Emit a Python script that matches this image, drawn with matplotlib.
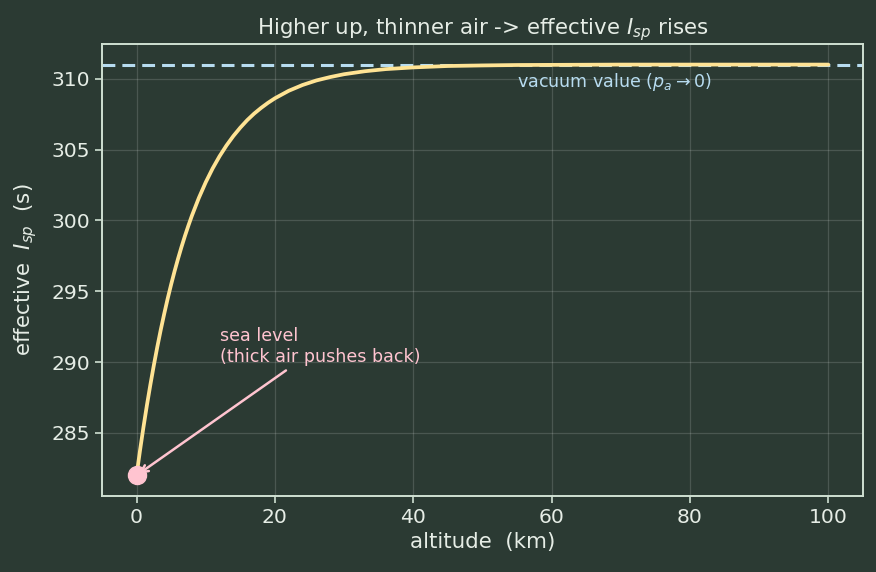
import matplotlib
matplotlib.use("Agg")
import matplotlib.pyplot as plt

# data
altitude_km = [0, 0.5, 1, 1.5, 2, 2.5, 3, 3.5, 4, 4.5, 5, 5.5, 6, 6.5, 7, 7.5, 8, 9, 10, 11, 12,
               13, 14, 15, 16, 17, 18, 19, 20, 22, 24, 26, 28, 30, 33, 36, 40, 45, 50, 55, 60,
               70, 80, 90, 100]
isp_s = [282.00, 283.76, 285.41, 286.96, 288.41, 289.78, 291.07, 292.28, 293.41, 294.48, 295.48,
         296.42, 297.30, 298.13, 298.91, 299.64, 300.33, 301.58, 302.69, 303.67, 304.53, 305.29,
         305.96, 306.55, 307.08, 307.54, 307.94, 308.30, 308.62, 309.15, 309.56, 309.88, 310.12,
         310.32, 310.53, 310.68, 310.80, 310.90, 310.94, 310.97, 310.98, 311.00, 311.00, 311.00,
         311.00]
isp_vacuum = 311.0
sea_level_alt = 0
sea_level_isp = 282.0

bg = "#2b3a33"
fg = "#e6ede6"
spine_c = "#cfe0d2"

fig = plt.figure(figsize=(8.76, 5.72), dpi=100, facecolor=bg)
ax = fig.add_axes([0.1164, 0.133, 0.985 - 0.1164, 0.923 - 0.133])
ax.set_facecolor(bg)

ax.grid(True, color="#ffffff", alpha=0.15, lw=0.9)
ax.set_axisbelow(True)

ax.axhline(isp_vacuum, color="#b7dcf0", lw=2.2, ls=(0, (4.2, 2.3)), zorder=2)
ax.plot(altitude_km, isp_s, color="#ffe394", lw=2.7, zorder=3, solid_capstyle="round")
ax.plot([sea_level_alt], [sea_level_isp], "o", color="#ffc4d0", ms=13, zorder=4)

ax.annotate("sea level\n(thick air pushes back)", xy=(sea_level_alt, sea_level_isp),
            xytext=(12, 290), color="#ffc4d0", fontsize=12.6,
            arrowprops=dict(arrowstyle="->", color="#ffc4d0", lw=1.8), zorder=5)

ax.text(55, 310.55, r"vacuum value ($p_a \rightarrow 0$)", color="#b7dcf0", fontsize=12.6,
        ha="left", va="top")

ax.set_title(r"Higher up, thinner air -> effective $I_{sp}$ rises", color=fg, fontsize=15.4, pad=7)
ax.set_xlabel("altitude  (km)", color=fg, fontsize=15.4)
ax.set_ylabel(r"effective  $I_{sp}$  (s)", color=fg, fontsize=15.4, labelpad=9)

ax.set_xticks([0, 20, 40, 60, 80, 100])
ax.set_yticks([285, 290, 295, 300, 305, 310])
ax.tick_params(colors=spine_c, labelcolor=fg, labelsize=14.6, width=1.2, length=5)
for s in ax.spines.values():
    s.set_color(spine_c)
    s.set_linewidth(1.4)

ax.set_xlim(-5, 105)
ax.set_ylim(280.55, 312.45)

fig.savefig("out.png", dpi=100, facecolor=bg)
